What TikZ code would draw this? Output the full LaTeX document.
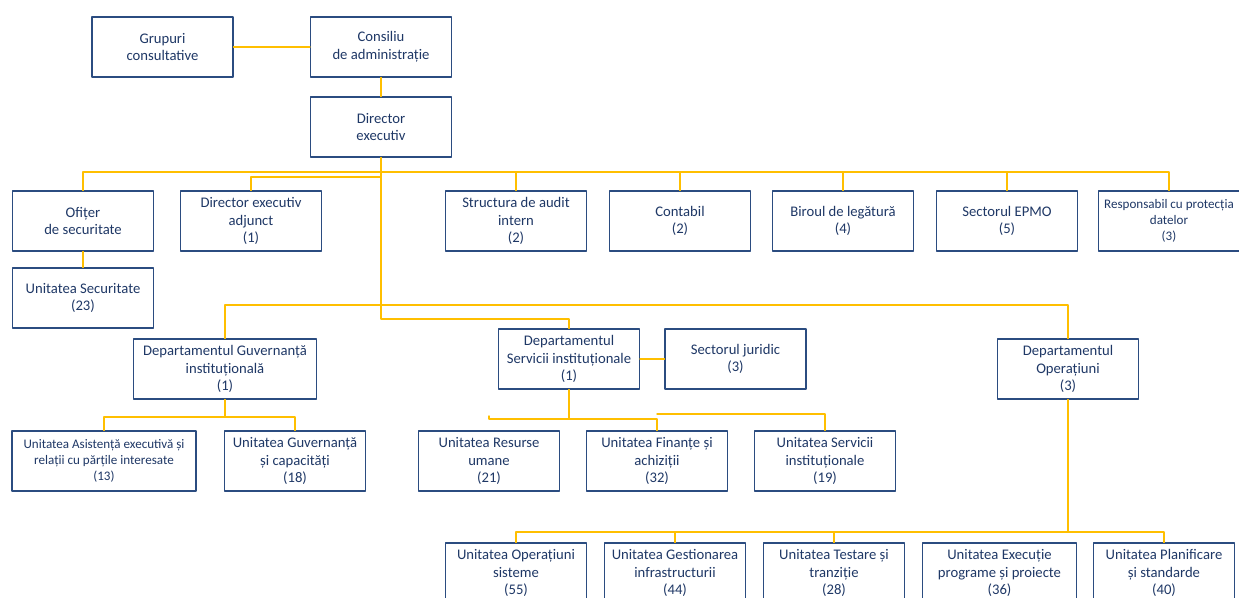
\documentclass[tikz,border=0pt]{standalone}
\usepackage{fontspec}
\setmainfont{Carlito}
\usepackage{tikz}
\usetikzlibrary{calc}
\definecolor{ffcqqq}{rgb}{1.,0.75,0.}
\definecolor{qqttbb}{rgb}{0.17,0.3,0.5}
\definecolor{qqsstt}{rgb}{0.12,0.22,0.4}
\tikzstyle{every node}=[font=\fontsize{11}{13.3}\selectfont]
\tikzstyle{unit}=[draw=qqttbb,line width=0.9pt,fill=white,text=qqsstt,align=center,minimum width=105.75pt,minimum height=45pt,inner sep=1pt]
\tikzstyle{small}=[font=\fontsize{9.8}{11.8}\selectfont]
\tikzstyle{link}=[line width=1.1pt,color=ffcqqq]
\begin{document}
\begin{tikzpicture}[line cap=round,line join=round,x=0.75pt,y=-0.75pt]
\useasboundingbox (0,0) rectangle (1239,597);
\node[unit] (grupuri) at (162.5,47) {Grupuri\\consultative};
\node[unit] (consiliu) at (381,47) {Consiliu\\de administrație};
\node[unit] (director) at (381,127) {Director\\executiv};
\node[unit] (ofiter) at (83,221) {Ofițer\\de securitate};
\node[unit] (adjunct) at (251,221) {Director executiv\\adjunct\\(1)};
\node[unit] (audit) at (516,221) {Structura de audit\\intern\\(2)};
\node[unit] (contabil) at (680,221) {Contabil\\(2)};
\node[unit] (birou) at (843,221) {Biroul de legătură\\(4)};
\node[unit] (epmo) at (1007,221) {Sectorul EPMO\\(5)};
\node[unit,small] (protectie) at (1169,221) {Responsabil cu protecția\\datelor\\(3)};
\node[unit] (securitate) at (83,298) {Unitatea Securitate\\(23)};
\node[unit,minimum width=137pt] (guvernanta) at (225,369) {Departamentul Guvernanță\\instituțională\\(1)};
\node[unit] (servicii) at (569,359) {Departamentul\\Servicii instituționale\\(1)};
\node[unit] (juridic) at (735.5,359) {Sectorul juridic\\(3)};
\node[unit] (operatiuni) at (1068,369) {Departamentul\\Operațiuni\\(3)};
\node[unit,small,minimum width=138pt] (asistenta) at (104,461) {Unitatea Asistență executivă și\\relații cu părțile interesate\\(13)};
\node[unit] (capacitati) at (295,461) {Unitatea Guvernanță\\și capacități\\(18)};
\node[unit] (resurse) at (489,461) {Unitatea Resurse\\umane\\(21)};
\node[unit] (finante) at (657,461) {Unitatea Finanțe și\\achiziții\\(32)};
\node[unit] (servinst) at (825,461) {Unitatea Servicii\\instituționale\\(19)};
\node[unit] (sisteme) at (516,573) {Unitatea Operațiuni\\sisteme\\(55)};
\node[unit] (infra) at (675,573) {Unitatea Gestionarea\\infrastructurii\\(44)};
\node[unit] (testare) at (834,573) {Unitatea Testare și\\tranziție\\(28)};
\node[unit,minimum width=116pt] (executie) at (999.5,573) {Unitatea Execuție\\programe și proiecte\\(36)};
\node[unit] (planificare) at (1164,573) {Unitatea Planificare\\și standarde\\(40)};
\coordinate (hub) at (381,172);
\coordinate (adj) at (381,177);
\coordinate (depts) at (381,305);
\coordinate (bend) at (381,319);
\coordinate (guvbar) at (225,417);
\coordinate (servbar) at (569,419);
\coordinate (stub) at (489,416);
\coordinate (finbar) at (657,414);
\coordinate (opbar) at (1068,532);
\draw[link] (grupuri.east) -- (consiliu.west);
\draw[link] (consiliu.south) -- (director.north);
\draw[link] (director.south) -- (bend) -| (servicii.north);
\draw[link] (ofiter.north) |- (protectie.north |- hub) -- (protectie.north);
\foreach \n in {audit,contabil,birou,epmo}
  \draw[link] (\n.north) -- (\n.north |- hub);
\draw[link] (adjunct.north) |- (adj);
\draw[link] (ofiter.south) -- (securitate.north);
\draw[link] (guvernanta.north) |- (depts) -| (operatiuni.north);
\draw[link] (servicii.east) -- (juridic.west);
\draw[link] (guvernanta.south) -- (guvbar);
\draw[link] (asistenta.north) |- (capacitati.north |- guvbar) -- (capacitati.north);
\draw[link] (servicii.south) -- (servbar);
\draw[link] (stub) |- (servbar) -| (finante.north);
\draw[link] (finbar) -| (servinst.north);
\draw[link] (operatiuni.south) -- (opbar);
\draw[link] (sisteme.north) |- (planificare.north |- opbar) -- (planificare.north);
\foreach \n in {infra,testare}
  \draw[link] (\n.north) -- (\n.north |- opbar);
\end{tikzpicture}
\end{document}
